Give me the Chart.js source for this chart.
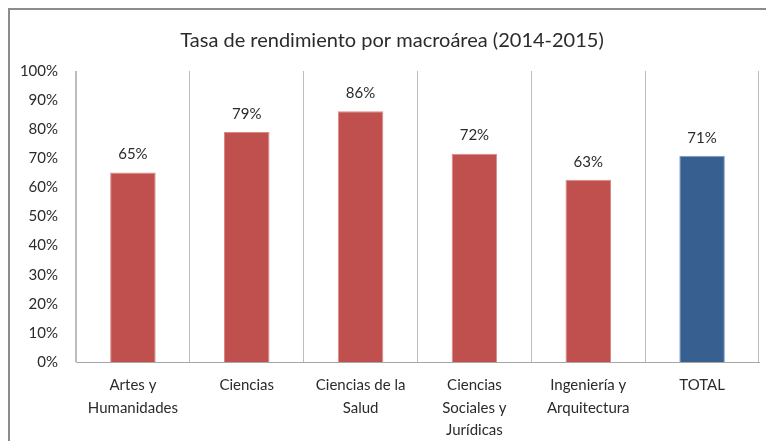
<!DOCTYPE html>
<html>
<head>
<meta charset="utf-8">
<script src="https://cdn.jsdelivr.net/npm/chart.js@4/dist/chart.umd.min.js"></script>
<style>
  html, body { margin: 0; padding: 0; background: #fff; overflow: hidden; }
  #wrap { position: relative; width: 766px; height: 441px; }
</style>
</head>
<body>
<div id="wrap"><canvas id="chart"></canvas></div>
<script>
const categories = [
    ['Artes y', 'Humanidades'],
    ['Ciencias'],
    ['Ciencias de la', 'Salud'],
    ['Ciencias', 'Sociales y', 'Jurídicas'],
    ['Ingeniería y', 'Arquitectura'],
    ['TOTAL']
];
const rates = [65.1, 79.0, 86.2, 71.6, 62.6, 70.9];
const barColors = ['#C0504D', '#C0504D', '#C0504D', '#C0504D', '#C0504D', '#375F8F'];
const barEdges = ['#D88A88', '#D88A88', '#D88A88', '#D88A88', '#D88A88', '#7E9CC2'];
const yTicks = [0, 10, 20, 30, 40, 50, 60, 70, 80, 90, 100];
const chartTitle = 'Tasa de rendimiento por macroárea (2014-2015)';

const fontFamily = 'Lato, "Open Sans", sans-serif';
const textColor = '#2b2b2b';

// frame around the chart (right and bottom edges are cut off in the original),
// and the title centred on the full frame rather than the canvas
const framePlugin = {
    id: 'frame',
    beforeDraw(chart) {
        const ctx = chart.ctx;
        ctx.save();
        ctx.strokeStyle = '#8C8C8C';
        ctx.lineWidth = 2;
        ctx.beginPath();
        ctx.moveTo(9, 441);
        ctx.lineTo(9, 9);
        ctx.lineTo(766, 9);
        ctx.stroke();
        ctx.font = '20px ' + fontFamily;
        ctx.fillStyle = textColor;
        ctx.textAlign = 'center';
        ctx.textBaseline = 'middle';
        ctx.fillText(chartTitle, 392, 41);
        ctx.restore();
    }
};

// percentage labels above each bar
const valueLabels = {
    id: 'valueLabels',
    afterDatasetsDraw(chart) {
        const ctx = chart.ctx;
        const meta = chart.getDatasetMeta(0);
        ctx.save();
        ctx.font = '15px ' + fontFamily;
        ctx.fillStyle = textColor;
        ctx.textAlign = 'center';
        ctx.textBaseline = 'middle';
        meta.data.forEach((bar, idx) => {
            ctx.fillText(Math.round(rates[idx]) + '%', bar.x, bar.y - 18);
        });
        ctx.restore();
    }
};

new Chart(document.getElementById('chart'), {
    type: 'bar',
    data: {
        labels: categories,
        datasets: [{
            data: rates,
            backgroundColor: barColors,
            borderColor: barEdges,
            borderWidth: 1,
            barPercentage: 0.4,
            categoryPercentage: 1
        }]
    },
    options: {
        responsive: true,
        maintainAspectRatio: false,
        animation: false,
        layout: {
            padding: { left: 12, right: 7, top: 71, bottom: 0 }
        },
        plugins: {
            legend: { display: false },
            tooltip: { enabled: false },
            title: { display: false }
        },
        scales: {
            x: {
                grid: {
                    display: true,
                    color: '#BDBDBD',
                    drawTicks: false,
                    offset: true
                },
                border: { display: true, color: '#A6A6A6' },
                ticks: {
                    color: textColor,
                    font: { family: fontFamily, size: 15, lineHeight: 1.5 },
                    padding: 12,
                    maxRotation: 0,
                    autoSkip: false
                },
                afterFit(scale) { scale.height = 79; }
            },
            y: {
                min: 0,
                max: 100,
                grid: { display: false, drawTicks: false },
                border: { display: true, color: '#BDBDBD' },
                afterBuildTicks(scale) {
                    scale.ticks = yTicks.map(v => ({ value: v }));
                },
                ticks: {
                    color: textColor,
                    font: { family: fontFamily, size: 15 },
                    padding: 18,
                    callback: v => v + '%'
                },
                afterFit(scale) { scale.width = 64; }
            }
        }
    },
    plugins: [framePlugin, valueLabels]
});
</script>
</body>
</html>
